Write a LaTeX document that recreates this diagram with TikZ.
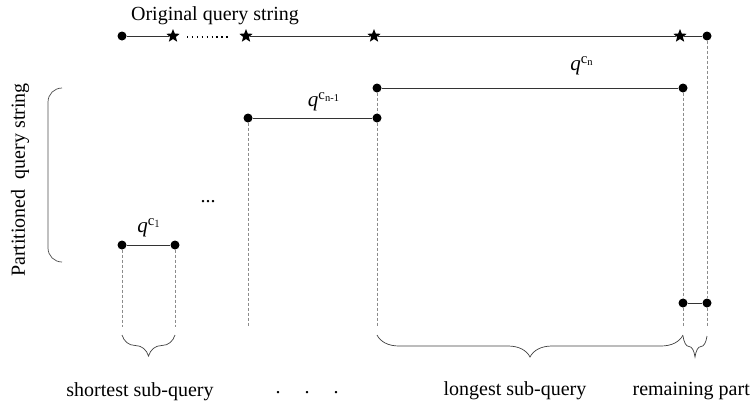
\documentclass[tikz,border=0pt]{standalone}
\usepackage{amsmath}
\usepackage{fontspec}
\setmainfont{Liberation Serif}
\usetikzlibrary{shapes.geometric,decorations.pathreplacing}
\begin{document}
\begin{tikzpicture}[x=1pt,y=-1pt,
  dotnode/.style={circle,fill=black,inner sep=0pt,minimum size=9pt},
  starnode/.style={star,star points=5,star point ratio=2.3,fill=black,inner sep=0pt,minimum size=14pt},
  seg/.style={draw=black!80,line width=0.9pt},
  guide/.style={draw=black!45,densely dashed,line width=0.6pt},
  lbl/.style={font=\fontsize{20}{24}\selectfont,inner sep=1pt},
  blbl/.style={font=\fontsize{20}{24}\selectfont,inner sep=1pt},
  qlbl/.style={font=\fontsize{21}{24}\selectfont,inner sep=1pt},
  bracestyle/.style={draw=black!75,line width=0.7pt,decorate,decoration={brace,mirror,amplitude=#1}}
]
\useasboundingbox (0,0) rectangle (751,408);
% top original string
\node[dotnode] (t0) at (122,36) {};
\node[starnode] (s1) at (173,36) {};
\node[starnode] (s2) at (246,36) {};
\node[starnode] (s3) at (374,36) {};
\node[starnode] (s4) at (680,36) {};
\node[dotnode] (t5) at (707,36) {};
\coordinate (d1) at (187,37);
\coordinate (d2) at (229,37);
\draw[seg] (t0) -- (s1);
\draw[black,line width=1.3pt,dash pattern=on 1.3pt off 3.6pt] (d1) -- (d2);
\draw[seg] (s2) -- (s3) -- (s4) -- (t5);
\node[lbl] (orig) at (215,16) {Original query string};
% sub-queries
\node[dotnode] (a) at (377,88) {};
\node[dotnode] (b) at (683,88) {};
\node[dotnode] (c) at (248,118) {};
\node[dotnode] (d) at (377,118) {};
\node[dotnode] (e) at (122,245) {};
\node[dotnode] (f) at (175,245) {};
\node[dotnode] (g) at (683,303) {};
\node[dotnode] (h) at (707,303) {};
\draw[seg] (a) -- (b);
\draw[seg] (c) -- (d);
\draw[seg] (e) -- (f);
\draw[seg] (g) -- (h);
\node[qlbl] (qn) at (582,66) {$\mathit{q}^{\mathrm{c}_{\text{n}}}$};
\node[qlbl] (qn1) at (324,102) {$\mathit{q}^{\mathrm{c}_{\text{n-1}}}$};
\node[qlbl] (q1) at (149,228) {$\mathit{q}^{\mathrm{c}_{1}}$};
\node[lbl] (mid) at (208,202) {...};
% guides
\coordinate (ge) at (122,327);
\coordinate (gf) at (175,327);
\coordinate (gc) at (248,327);
\coordinate (ga) at (377,327);
\coordinate (gb) at (683,327);
\coordinate (gt) at (707,327);
\draw[guide] (e) -- (ge);
\draw[guide] (f) -- (gf);
\draw[guide] (c) -- (gc);
\draw[guide] (a) -- (d);
\draw[guide] (d) -- (ga);
\draw[guide] (b) -- (g);
\draw[guide] (g) -- (gb);
\draw[guide] (t5) -- (h);
\draw[guide] (h) -- (gt);
% braces
\coordinate (b1l) at (122,335);
\coordinate (b1r) at (175,335);
\coordinate (b2l) at (377,335);
\coordinate (b2r) at (683,335);
\coordinate (b3l) at (683,336);
\coordinate (b3r) at (707,336);
\draw[bracestyle=21] (b1l) -- (b1r);
\draw[bracestyle=22] (b2l) -- (b2r);
\draw[bracestyle=21] (b3l) -- (b3r);
% left bracket
\coordinate (lb1) at (62,88);
\coordinate (lb2) at (62,262);
\draw[draw=black!70,line width=0.7pt] (lb1) to[out=180,in=90] (48,102) -- (48,248) to[out=-90,in=180] (lb2);
\node[lbl,rotate=90] (part) at (20,180) {Partitioned\ \ query string};
% bottom labels
\node[blbl] (short) at (140,392) {shortest sub-query};
\node[blbl] (dots) at (307,393) {.\hspace{24pt}.\hspace{24pt}.};
\node[blbl] (long) at (515,391) {longest sub-query};
\node[blbl,anchor=east] (rem) at (751,391) {remaining part};
\end{tikzpicture}
\end{document}
